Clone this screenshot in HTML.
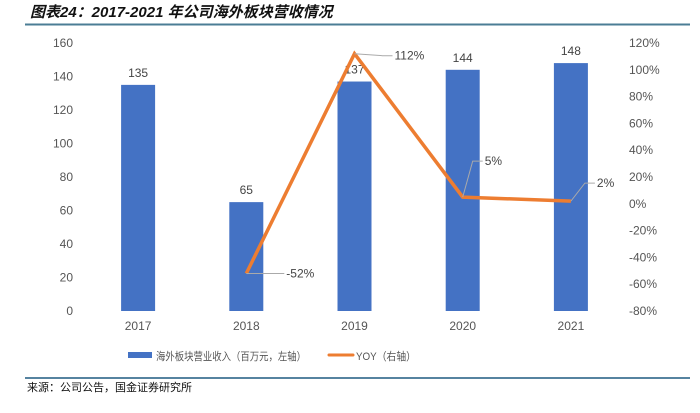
<!DOCTYPE html>
<html><head><meta charset="utf-8"><style>
body{margin:0;background:#fff;width:700px;height:408px;overflow:hidden;font-family:"Liberation Sans","Noto Sans CJK SC",sans-serif}
</style></head><body>
<svg width="700" height="408" xmlns="http://www.w3.org/2000/svg">
<text x="30" y="17" font-size="15" font-weight="bold" font-style="italic" fill="#111" font-family="Liberation Sans, Noto Sans CJK SC, sans-serif">图表24：2017-2021 年公司海外板块营收情况</text>
<line x1="25" y1="24.5" x2="690" y2="24.5" stroke="#4b7d95" stroke-width="2"/>
<g id="plot"></g>
<g>
<rect x="128" y="352" width="24" height="6" fill="#4472c4"/>
<text x="156" y="360" font-size="11" fill="#555" textLength="150" lengthAdjust="spacingAndGlyphs">海外板块营业收入（百万元，左轴）</text>
<line x1="329" y1="355" x2="353" y2="355" stroke="#ed7d31" stroke-width="3" stroke-linecap="round"/>
<text x="356" y="360" font-size="11" fill="#555" textLength="60" lengthAdjust="spacingAndGlyphs">YOY（右轴）</text>
</g>
<line x1="25" y1="378" x2="690" y2="378" stroke="#1f5a80" stroke-width="1.5"/>
<text x="27" y="391" font-size="11" fill="#111">来源：公司公告，国金证券研究所</text>
</svg>
<script>
const categories=["2017","2018","2019","2020","2021"];
const revenue=[135,65,137,144,148];
const yoy=[null,-52,112,5,2];
const yoyLabels=["","-52%","112%","5%","2%"];
const leftTicks=[0,20,40,60,80,100,120,140,160];
const rightTicks=[-80,-60,-40,-20,0,20,40,60,80,100,120];
const NS="http://www.w3.org/2000/svg";
const g=document.getElementById("plot");
const top0=43,bot0=311,x0=84,step=108.2;
const yL=v=>bot0-(v/160)*(bot0-top0);
const yR=v=>bot0-((v+80)/200)*(bot0-top0);
const xC=i=>x0+step*(i+0.5);
function mk(t,a){const e=document.createElementNS(NS,t);for(const k in a)e.setAttribute(k,a[k]);g.appendChild(e);return e;}
leftTicks.forEach(v=>{const t=mk("text",{x:73,y:yL(v)+4,"font-size":12,fill:"#555","text-anchor":"end"});t.textContent=v;

});
rightTicks.forEach(v=>{const t=mk("text",{x:629,y:yR(v)+4,"font-size":12,fill:"#555"});t.textContent=v+"%";

});
categories.forEach((c,i)=>{
const b=mk("rect",{x:xC(i)-17,y:yL(revenue[i]),width:34,height:bot0-yL(revenue[i]),fill:"#4472c4"});


const l=mk("text",{x:xC(i),y:yL(revenue[i])-8,"font-size":12,fill:"#444","text-anchor":"middle"});l.textContent=revenue[i];


const x=mk("text",{x:xC(i),y:330,"font-size":12,fill:"#555","text-anchor":"middle"});x.textContent=c;


});
let pts=[];yoy.forEach((v,i)=>{if(v!==null)pts.push([xC(i),yR(v)]);});
const pl=mk("polyline",{points:pts.map(p=>p.join(",")).join(" "),fill:"none",stroke:"#ed7d31","stroke-width":3.5,"stroke-linejoin":"miter"});


const offs=[null,[28,0],[28,2],[10,-36],[14,-18]];
yoy.forEach((v,i)=>{if(v===null)return;const px=xC(i),py=yR(v),o=offs[i];
const ll=mk("polyline",{points:`${px},${py} ${px+o[0]},${py+o[1]} ${px+o[0]+10},${py+o[1]}`,fill:"none",stroke:"#aaa","stroke-width":1});


const t=mk("text",{x:px+o[0]+12,y:py+o[1]+4,"font-size":12,fill:"#444"});t.textContent=yoyLabels[i];


});
</script>
</body></html>
